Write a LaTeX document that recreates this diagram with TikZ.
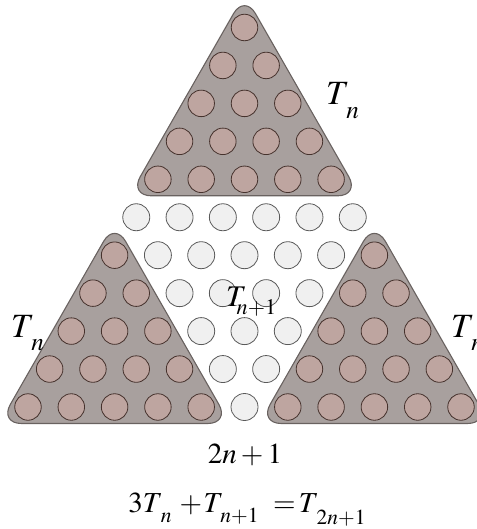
\documentclass[tikz,border=0pt]{standalone}
\usepackage{mathptmx}
\usetikzlibrary{calc,backgrounds}
\definecolor{trifill}{RGB}{168,160,158}
\definecolor{triline}{RGB}{105,98,96}
\definecolor{bfill}{RGB}{190,165,160}
\definecolor{bline}{RGB}{70,50,45}
\definecolor{wfill}{RGB}{240,240,240}
\definecolor{wline}{RGB}{90,90,90}
% T with a dropped subscript: #1 subscript, #2 kern, #3 drop
\newcommand\Tlow[3]{T\kern#2\raisebox{#3}{$\scriptstyle #1$}}
\begin{document}
\begin{tikzpicture}[x=1pt,y=-1pt,
  tri/.style={fill=trifill, draw=triline, line width=1.1pt, rounded corners=22pt},
  bc/.style={circle, draw=bline, fill=bfill, line width=0.8pt, minimum size=26.5pt, inner sep=0pt},
  wc/.style={circle, draw=wline, fill=wfill, line width=0.8pt, minimum size=27pt, inner sep=0pt},
  lab/.style={inner sep=0pt, anchor=base west},
  bigT/.style={lab, font=\fontsize{34}{40}\selectfont},
  midT/.style={lab, font=\fontsize{30}{36}\selectfont},
  eqn/.style={inner sep=0pt, anchor=base, font=\fontsize{29}{34}\selectfont}]
\useasboundingbox (0,0) rectangle (476,529);
% lattice of circles
\foreach \r in {0,...,10}{
  \foreach \j in {0,...,\r}{
    \pgfmathsetmacro\xx{244.5+(\j-\r/2)*43.3}
    \pgfmathsetmacro\yy{27.5+\r*37.95}
    \pgfmathtruncatemacro\kind{(\r<5) ? 1 : (((\r>5) && ((\j<=\r-6) || (\j>=6))) ? 1 : 0)}
    \ifnum\kind=1
      \node[bc] (c-\r-\j) at (\xx,\yy) {};
    \else
      \node[wc] (c-\r-\j) at (\xx,\yy) {};
    \fi
  }
}
% triangles behind
\begin{scope}[on background layer]
  \foreach \a/\l/\rr/\nm in {c-0-0/c-4-0/c-4-4/top, c-6-0/c-10-0/c-10-4/left, c-6-6/c-10-6/c-10-10/right}{
    \coordinate (\nm-A) at ([yshift=33pt]\a.center);
    \coordinate (\nm-L) at ([xshift=-28.6pt,yshift=-16.5pt]\l.center);
    \coordinate (\nm-R) at ([xshift=28.6pt,yshift=-16.5pt]\rr.center);
    \draw[tri] ($(\nm-L)!0.5!(\nm-R)$) -- (\nm-R) -- (\nm-A) -- (\nm-L) -- cycle;
  }
\end{scope}
% labels
\node[bigT] (lt) at (326,105) {$\Tlow{n}{-3pt}{-14pt}$};
\node[bigT] (ll) at (11,337) {$\Tlow{n}{-3pt}{-13pt}$};
\node[bigT] (lr) at (451,337) {$\Tlow{n}{-3pt}{-13pt}$};
\node[midT] (lm) at (226,306) {$\Tlow{n+1}{-10pt}{-8pt}$};
\node[eqn] (l2) at (245,463) {$2n+1$};
\node[eqn] (le) at (247,512) {$3\Tlow{n}{-2pt}{-10pt}\mkern5mu\mathord{+}\mkern1mu\Tlow{n+1}{-3pt}{-10pt}\mkern9mu\mathord{=}\mkern2mu\Tlow{2n+1}{-2pt}{-12pt}$};
\end{tikzpicture}
\end{document}
